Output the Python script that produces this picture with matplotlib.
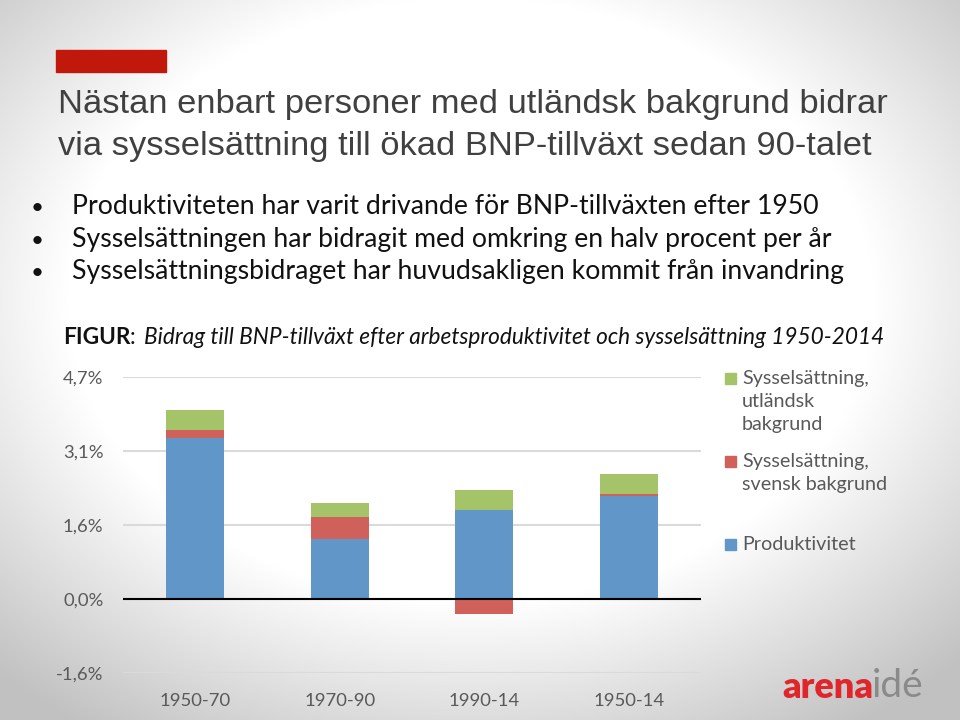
import numpy as np
import matplotlib.pyplot as plt
from matplotlib.patches import Rectangle

periods = ['1950-70', '1970-90', '1990-14', '1950-14']
produktivitet = [3.37, 1.26, 1.87, 2.16]
svensk = [0.17, 0.47, -0.31, 0.05]
utlandsk = [0.43, 0.29, 0.42, 0.41]
series_names = ['Produktivitet', 'Sysselsättning,\nsvensk bakgrund',
                'Sysselsättning,\nutländsk\nbakgrund']
series_colors = ['#6096c8', '#d0605a', '#a5c46a']
yticks = [-1.55, 0.0, 1.55, 3.1, 4.65]
ytick_labels = ['-1,6%', '0,0%', '1,6%', '3,1%', '4,7%']

title_lines = ['Nästan enbart personer med utländsk bakgrund bidrar',
               'via sysselsättning till ökad BNP-tillväxt sedan 90-talet']
bullets = ['Produktiviteten har varit drivande för BNP-tillväxten efter 1950',
           'Sysselsättningen har bidragit med omkring en halv procent per år',
           'Sysselsättningsbidraget har huvudsakligen kommit från invandring']

title_font = 'Liberation Sans'
body_font = 'Lato'

fig = plt.figure(figsize=(9.6, 7.2), dpi=100)

# background gradient
bg = fig.add_axes([0, 0, 1, 1], zorder=-10)
yy, xx = np.mgrid[0:720, 0:960]
d = np.sqrt(((xx - 470) / 560.0) ** 2 + ((yy - 300) / 420.0) ** 2)
shade = 1 - 0.24 * np.clip((d - 0.72) / 0.5, 0, 1)
bg.imshow(np.dstack([shade] * 3), aspect='auto', extent=[0, 1, 0, 1])
bg.set_axis_off()

# red block and title
fig.patches.append(Rectangle((56 / 960, 1 - 72 / 720), 110 / 960, 22 / 720,
                             transform=fig.transFigure, color='#c0190c'))
for i, line in enumerate(title_lines):
    fig.text(58 / 960, 1 - (113 + i * 42) / 720, line, fontsize=24.8, color='#404040',
             family=title_font, va='baseline')

for i, b in enumerate(bullets):
    y = 1 - (214 + i * 32.5) / 720
    fig.text(31 / 960, y, '•', fontsize=16, color='#111111', family=body_font, va='baseline')
    fig.text(72 / 960, y, b, fontsize=19.2, color='#111111', family=body_font, va='baseline')

cap_y = 1 - 344 / 720
t = fig.text(63 / 960, cap_y, 'FIGUR', fontsize=16.3, fontweight='bold',
             color='#111111', family=body_font, va='baseline')
fig.canvas.draw()
r = fig.canvas.get_renderer()
bb = t.get_window_extent(r)
t2 = fig.text(bb.x1 / 960, cap_y, ': ', fontsize=16.3, color='#111111',
              family=body_font, va='baseline')
bb2 = t2.get_window_extent(r)
fig.text(bb2.x1 / 960 + 0.002, cap_y,
         'Bidrag till BNP-tillväxt efter arbetsproduktivitet och sysselsättning 1950-2014',
         fontsize=16.3, style='italic', color='#111111', family=body_font, va='baseline')

# chart
ax = fig.add_axes([123 / 960, 1 - 673.3 / 720, 578 / 960, 296 / 720])
ax.patch.set_alpha(0)
x = np.arange(len(periods))
pos_base = np.zeros(len(periods))
neg_base = np.zeros(len(periods))
for vals, col in zip([produktivitet, svensk, utlandsk], series_colors):
    vals = np.array(vals)
    bottoms = np.where(vals >= 0, pos_base, neg_base)
    ax.bar(x, vals, bottom=bottoms, width=0.4, color=col, zorder=3)
    pos_base += np.where(vals >= 0, vals, 0)
    neg_base += np.where(vals < 0, vals, 0)

ax.set_xlim(-0.5, 3.5)
ax.set_ylim(-1.55, 4.65)
ax.set_yticks(yticks)
ax.set_yticklabels(ytick_labels)
ax.set_xticks(x)
ax.set_xticklabels(periods)
ax.grid(axis='y', color='#dadada', linewidth=1.5, zorder=0)
ax.axhline(0, color='black', linewidth=1.5, zorder=4)
for s in ax.spines.values():
    s.set_visible(False)
ax.tick_params(length=0, labelsize=13.3, labelcolor='#595959')
ax.tick_params(axis='y', pad=14)
ax.tick_params(axis='x', pad=14)
for lab in ax.get_xticklabels() + ax.get_yticklabels():
    lab.set_family(body_font)

# legend
leg_tops = [539, 455.7, 372.7]
for name, col, top in zip(series_names, series_colors, leg_tops):
    fig.patches.append(Rectangle((725 / 960, 1 - (top + 11) / 720), 11 / 960, 11 / 720,
                                 transform=fig.transFigure, color=col))
    fig.text(742 / 960, 1 - (top - 3) / 720, name, fontsize=14.2, color='#595959',
             family=body_font, va='top', linespacing=1.45)

# logo
lg = fig.text(782 / 960, 1 - 698 / 720, 'arena', fontsize=26, fontweight='heavy',
              color='#e0262b', family=body_font, va='baseline')
ax.annotate('idé', xy=(1, 0), xycoords=lg, xytext=(-1, 0), textcoords='offset points',
            fontsize=28, color='#8a8a8a', family=body_font, va='bottom', annotation_clip=False)

fig.savefig('out.png', dpi=100)
